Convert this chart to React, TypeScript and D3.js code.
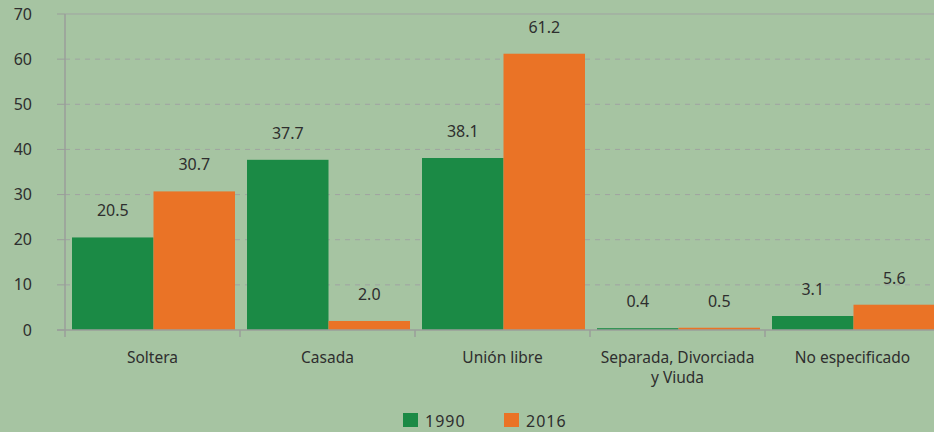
import React, { useRef, useEffect } from "react";
import * as d3 from "d3";

const width = 934;
const height = 432;

const categories = ["Soltera", "Casada", "Unión libre", "Separada, Divorciada|y Viuda", "No especificado"];
const series = ["1990", "2016"];
const values1990 = [20.5, 37.7, 38.1, 0.4, 3.1];
const values2016 = [30.7, 2.0, 61.2, 0.5, 5.6];
const yTicks = [0, 10, 20, 30, 40, 50, 60, 70];

const colors = ["#1b8a45", "#ea7326"];
const font = "'Noto Sans', 'Open Sans', sans-serif";

export default function App() {
  const ref = useRef<SVGSVGElement | null>(null);

  useEffect(() => {
    const svg = d3.select(ref.current);
    svg.selectAll("*").remove();

    const left = 65;
    const x = d3.scaleBand().domain(categories).range([left, left + 175 * 5]).paddingInner(0).paddingOuter(0);
    const inner = d3.scaleBand().domain(series).range([7, 175 - 5]).padding(0);
    const y = d3.scaleLinear().domain([0, 70]).range([330, 14]);

    svg.append("rect").attr("width", width).attr("height", height).attr("fill", "#a6c4a2");

    // gridlines
    svg
      .selectAll("line.grid")
      .data(yTicks.filter((d) => d > 0))
      .enter()
      .append("line")
      .attr("x1", left)
      .attr("x2", width)
      .attr("y1", (d) => y(d))
      .attr("y2", (d) => y(d))
      .attr("stroke", "#a0a3a2")
      .attr("stroke-width", 1)
      .attr("stroke-dasharray", (d) => (d === 70 ? null : "5,5"));

    // y tick marks + labels
    svg
      .selectAll("line.ytick")
      .data(yTicks)
      .enter()
      .append("line")
      .attr("x1", 57)
      .attr("x2", left)
      .attr("y1", (d) => y(d))
      .attr("y2", (d) => y(d))
      .attr("stroke", "#9a9e9a");

    svg
      .selectAll("text.ylab")
      .data(yTicks)
      .enter()
      .append("text")
      .attr("x", 32)
      .attr("y", (d) => y(d) + 5.5)
      .attr("text-anchor", "end")
      .attr("font-family", font)
      .attr("font-size", 16)
      .attr("fill", "#2e2e2e")
      .text((d) => d);

    // bars
    const rows = categories.flatMap((c, i) => [
      { cat: c, s: series[0], v: values1990[i], color: colors[0] },
      { cat: c, s: series[1], v: values2016[i], color: colors[1] },
    ]);

    svg
      .selectAll("rect.bar")
      .data(rows)
      .enter()
      .append("rect")
      .attr("x", (d) => x(d.cat)! + inner(d.s)!)
      .attr("width", inner.bandwidth())
      .attr("y", (d) => y(d.v))
      .attr("height", (d) => y(0) - y(d.v))
      .attr("fill", (d) => d.color);

    svg
      .selectAll("text.val")
      .data(rows)
      .enter()
      .append("text")
      .attr("x", (d) => x(d.cat)! + inner(d.s)! + inner.bandwidth() / 2)
      .attr("y", (d) => y(d.v) - 21)
      .attr("text-anchor", "middle")
      .attr("font-family", font)
      .attr("font-size", 16)
      .attr("fill", "#2e2e2e")
      .text((d) => d.v.toFixed(1));

    // x axis
    svg
      .append("line")
      .attr("x1", 57)
      .attr("x2", width)
      .attr("y1", y(0))
      .attr("y2", y(0))
      .attr("stroke", "#9a9e9a")
      .attr("stroke-width", 1.5);
    svg
      .append("line")
      .attr("x1", left)
      .attr("x2", left)
      .attr("y1", y(70))
      .attr("y2", y(0) + 7)
      .attr("stroke", "#9a9e9a")
      .attr("stroke-width", 1.5);

    svg
      .selectAll("line.xtick")
      .data(categories.slice(1))
      .enter()
      .append("line")
      .attr("x1", (d) => x(d)!)
      .attr("x2", (d) => x(d)!)
      .attr("y1", y(0))
      .attr("y2", y(0) + 7)
      .attr("stroke", "#9a9e9a")
      .attr("stroke-width", 1.5);

    const xl = svg
      .selectAll("text.xlab")
      .data(categories)
      .enter()
      .append("text")
      .attr("text-anchor", "middle")
      .attr("font-family", font)
      .attr("font-size", 15.5)
      .attr("fill", "#2e2e2e");
    xl.each(function (d) {
      const t = d3.select(this);
      d.split("|").forEach((line, i) => {
        t.append("tspan")
          .attr("x", x(d)! + x.bandwidth() / 2)
          .attr("y", 363 + i * 20)
          .text(line);
      });
    });

    // legend
    const legX = [403, 504];
    series.forEach((s, i) => {
      svg.append("rect").attr("x", legX[i]).attr("y", 413).attr("width", 15).attr("height", 14).attr("fill", colors[i]);
      svg
        .append("text")
        .attr("x", legX[i] + 22)
        .attr("y", 426.5)
        .attr("font-family", font)
        .attr("font-size", 16)
        .attr("letter-spacing", 1)
        .attr("fill", "#2e2e2e")
        .text(s);
    });
  }, []);

  return <svg ref={ref} width={width} height={height} style={{ position: "absolute", left: 0, top: 0 }} />;
}
